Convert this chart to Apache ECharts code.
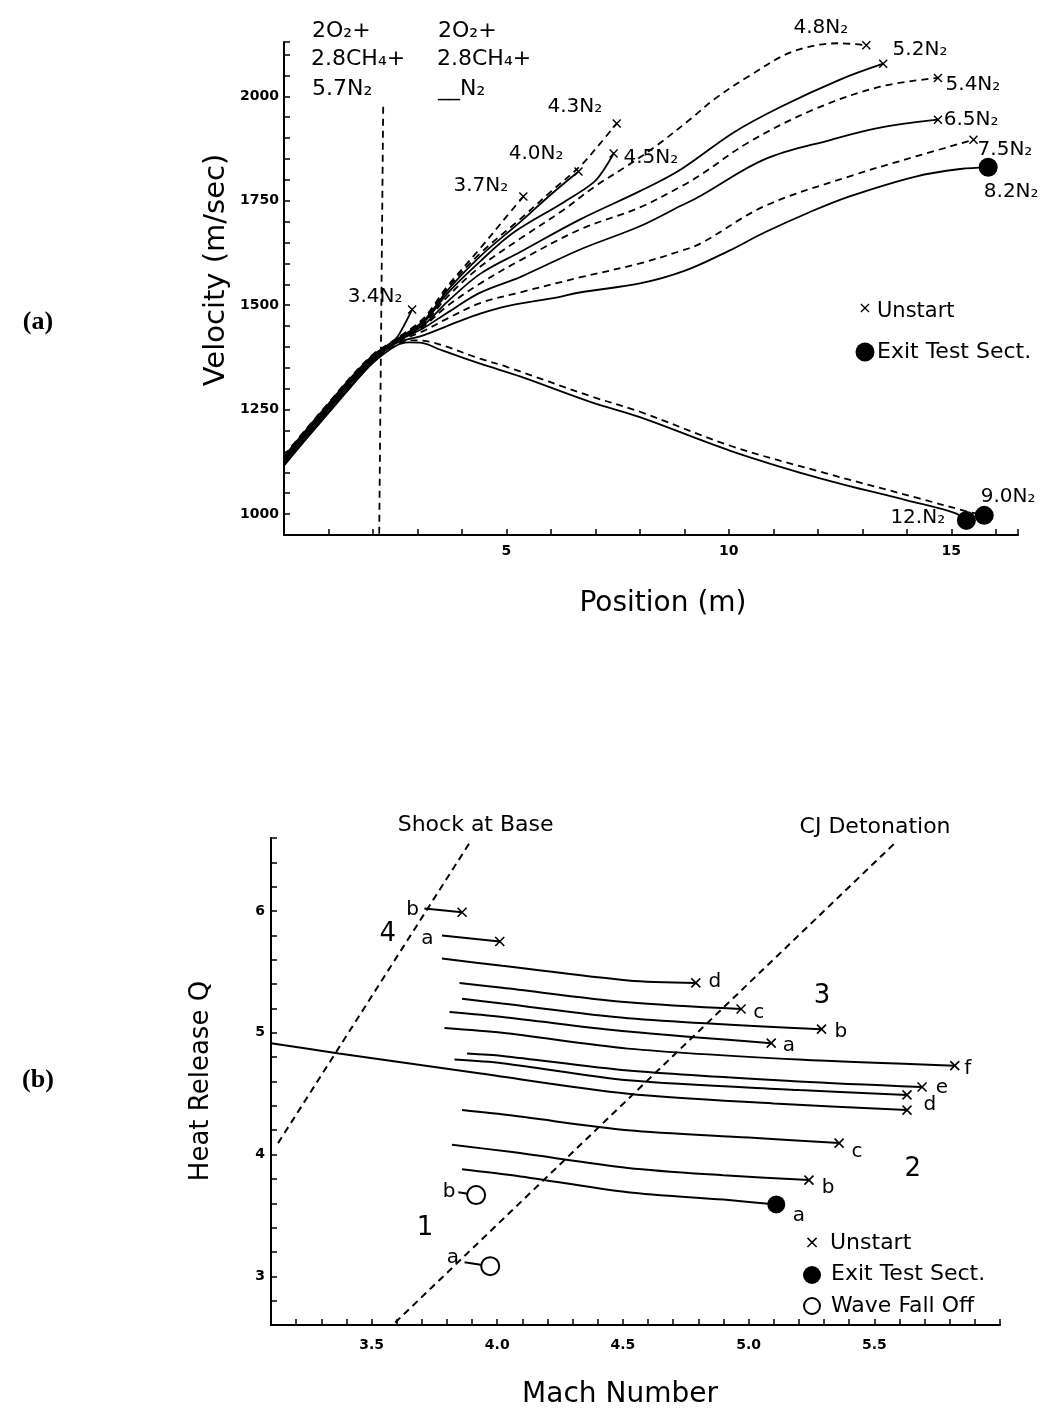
<!DOCTYPE html>
<html><head><meta charset="utf-8">
<script src="https://cdn.jsdelivr.net/npm/echarts@6/dist/echarts.min.js"></script>
<style>html,body{margin:0;padding:0;background:#fff}#c{width:1048px;height:1413px}</style>
</head><body><div id="c"></div>
<script>
// ---------- Panel (a): Position (m) vs Velocity (m/sec) ----------
const posVelN34 = [[0,1138],[0.5,1202],[1,1264],[1.5,1326],[2,1380],[2.5,1418],[2.7,1452],[2.88,1490]];
const posVelN37 = [[0,1140],[0.5,1204],[1,1266],[1.5,1328],[2,1382],[2.5,1418],[3.13,1468],[3.67,1545],[4.41,1636],[5.0,1712],[5.38,1760]];
const posVelN40 = [[0,1136],[0.5,1200],[1,1262],[1.5,1324],[2,1379],[2.5,1416],[3.13,1462],[3.67,1535],[4.41,1617],[5.32,1700],[6.0,1765],[6.62,1820]];
const posVelN43 = [[0,1138],[0.5,1202],[1,1264],[1.5,1325],[2,1380],[2.5,1417],[3.13,1465],[3.67,1540],[4.41,1624],[5.32,1707],[6.0,1772],[6.67,1834],[7.05,1880],[7.48,1935]];
const posVelN45 = [[0,1134],[0.5,1198],[1,1260],[1.5,1322],[2,1378],[2.5,1415],[3.13,1458],[3.67,1528],[4.41,1605],[5.16,1674],[6.28,1746],[6.96,1794],[7.2,1826],[7.41,1863]];
const posVelN48 = [[0,1132],[0.5,1196],[1,1258],[1.5,1320],[2,1376],[2.5,1414],[3.13,1455],[3.67,1520],[4.41,1592],[5.32,1660],[6.28,1728],[7.0,1785],[7.72,1834],[8.4,1884],[9.2,1951],[9.66,1992],[10.43,2047],[11.46,2108],[12.5,2127],[13.09,2122]];
const posVelN52 = [[0,1130],[0.5,1194],[1,1256],[1.5,1318],[2,1374],[2.5,1413],[3.13,1452],[3.67,1508],[4.41,1575],[5.32,1628],[6.67,1706],[8.0,1773],[8.92,1825],[10.1,1913],[11.17,1975],[12.5,2040],[13.47,2078]];
const posVelN54 = [[0,1128],[0.5,1192],[1,1254],[1.5,1316],[2,1372],[2.5,1412],[3.13,1449],[3.67,1498],[4.41,1552],[5.32,1608],[6.67,1682],[8.0,1734],[8.92,1784],[9.37,1812],[10.43,1889],[11.9,1968],[13.4,2023],[14.7,2044]];
const posVelN65 = [[0,1125],[0.5,1189],[1,1251],[1.5,1313],[2,1370],[2.5,1411],[3.13,1445],[3.67,1482],[4.41,1530],[5.32,1568],[6.67,1634],[8.0,1689],[8.92,1738],[9.37,1762],[10.8,1849],[12.3,1896],[13.4,1925],[14.7,1944]];
const posVelN75 = [[0,1122],[0.5,1186],[1,1248],[1.5,1310],[2,1368],[2.5,1410],[3.13,1438],[3.67,1468],[4.41,1505],[5.32,1531],[6.67,1567],[8.0,1600],[8.92,1630],[9.37,1648],[10.8,1737],[12.7,1808],[14.2,1856],[15.5,1896]];
const posVelN82 = [[0,1119],[0.5,1183],[1,1245],[1.5,1307],[2,1366],[2.5,1408],[3.13,1428],[3.9,1460],[4.41,1480],[5.02,1498],[6.15,1519],[6.67,1531],[8.0,1552],[9.0,1582],[10.0,1630],[10.8,1674],[11.8,1722],[12.7,1760],[14.2,1808],[15.2,1826],[15.83,1830]];
const posVelN90 = [[0,1118],[0.5,1182],[1,1244],[1.5,1306],[2,1364],[2.5,1404],[2.9,1416],[3.2,1414],[4.41,1372],[5.02,1352],[6.9,1282],[8.0,1245],[10.05,1163],[12.07,1101],[14.3,1037],[15.3,1008],[15.74,997]];
const posVelN120 = [[0,1116],[0.5,1180],[1,1242],[1.5,1304],[2,1362],[2.5,1402],[2.8,1411],[3.1,1410],[3.5,1394],[4.41,1360],[5.32,1329],[6.9,1268],[8.0,1232],[10.05,1151],[12.07,1085],[14.0,1033],[15.07,1003],[15.34,985]];
const mixBoundary = [[2.23,1975],[2.14,950]];

const aCurveLabels = ['3.4N₂','3.7N₂','4.0N₂','4.3N₂','4.5N₂','4.8N₂','5.2N₂','5.4N₂','6.5N₂','7.5N₂','8.2N₂','9.0N₂','12.N₂'];
const aCurveLabelAt = [[1.42,1520],[3.80,1786],[5.04,1862],[5.91,1976],[7.62,1853],[11.44,2165],[13.67,2112],[14.86,2027],[14.82,1944],[15.58,1871],[15.72,1771],[15.65,1042],[13.62,990]];

// ---------- Panel (b): Mach Number vs Heat Release Q ----------
const r4b = [[3.71,6.02],[3.86,5.99]];
const r4a = [[3.78,5.80],[4.01,5.75]];
const r3d = [[3.78,5.61],[4.02,5.55],[4.52,5.43],[4.79,5.41]];
const r3c = [[3.85,5.41],[4.02,5.37],[4.52,5.25],[4.97,5.195]];
const r3b = [[3.86,5.28],[4.02,5.24],[4.52,5.12],[5.29,5.03]];
const r3a = [[3.81,5.17],[4.02,5.13],[4.52,5.01],[5.09,4.915]];
const r2f = [[3.79,5.04],[4.02,5.00],[4.52,4.87],[5.2,4.78],[5.82,4.73]];
const r2e = [[3.88,4.83],[4.02,4.81],[4.52,4.69],[5.2,4.60],[5.69,4.555]];
const r2d = [[3.83,4.78],[4.02,4.75],[4.52,4.61],[5.2,4.53],[5.63,4.49]];
const r2dLong = [[3.1,4.915],[3.37,4.83],[3.92,4.67],[4.52,4.50],[5.1,4.42],[5.63,4.365]];
const r2c = [[3.86,4.365],[4.06,4.32],[4.52,4.20],[5.0,4.14],[5.36,4.094]];
const r2b = [[3.82,4.08],[4.06,4.02],[4.52,3.89],[4.9,3.83],[5.24,3.79]];
const r2a = [[3.86,3.88],[4.06,3.83],[4.52,3.69],[4.9,3.63],[5.11,3.59]];
const w1b = [[3.845,3.69],[3.916,3.667]];
const w1a = [[3.87,3.116],[3.972,3.083]];
const shockAtBase = [[3.128,4.094],[3.89,6.56]];
const cjDetonation = [[3.594,2.62],[5.586,6.567]];

const bLetterText = ['b','a','d','c','b','a','f','e','d','c','b','a','b','a'];
const bLetterAt = [[3.663,6.008],[3.722,5.772],[4.866,5.417],[5.04,5.162],[5.367,5.006],[5.16,4.891],[5.872,4.703],[5.769,4.547],[5.721,4.407],[5.431,4.021],[5.316,3.725],[5.2,3.495],[3.808,3.692],[3.824,3.150]];
const bRegionText = ['4','3','2','1'];
const bRegionAt = [[3.565,5.811],[5.292,5.302],[5.653,3.881],[3.713,3.397]];
const bLineTitleText = ['Shock at Base','CJ Detonation'];
const bLineTitleAt = [[3.914,6.707],[5.503,6.690]];

// ---------- tick labels ----------
const aXTickLabels = [5,10,15];
const aYTickLabels = [1000,1250,1500,1750,2000];
const bXTickLabels = ['3.5','4.0','4.5','5.0','5.5'];
const bYTickLabels = [3,4,5,6];

// ---------- build ----------
const FONT = "'DejaVu Sans', sans-serif";
const CROSS = 'path://M0,0L10,10M10,0L0,10';
const last = a => a[a.length-1];

const aCurves = [
  [posVelN34,false],[posVelN37,true],[posVelN40,false],[posVelN43,true],[posVelN45,false],
  [posVelN48,true],[posVelN52,false],[posVelN54,true],[posVelN65,false],[posVelN75,true],
  [posVelN82,false],[posVelN90,true],[posVelN120,false]
];
const aUnstart = [posVelN34,posVelN37,posVelN40,posVelN43,posVelN45,posVelN48,posVelN52,posVelN54,posVelN65,posVelN75].map(last);
const aExit = [posVelN82,posVelN90,posVelN120].map(last);

const bCurves = [r4b,r4a,r3d,r3c,r3b,r3a,r2f,r2e,r2d,r2dLong,r2c,r2b,r2a,w1b,w1a];
const bUnstart = [r4b,r4a,r3d,r3c,r3b,r3a,r2f,r2e,r2d,r2dLong,r2c,r2b].map(last);
const bExit = [r2a].map(last);
const bWave = [w1b,w1a].map(last);

function lineS(pts, dashed, ax, width, smooth) {
  return {type:'line', xAxisIndex:ax, yAxisIndex:ax, data:pts, symbol:'none', showSymbol:false,
    smooth: smooth, silent:true, z:2,
    lineStyle:{color:'#000', width:width, type: dashed ? [7,5] : 'solid'}};
}
function labelS(ax, pos, texts, opt) {
  return {type:'scatter', xAxisIndex:ax, yAxisIndex:ax, clip:false, silent:true,
    symbol:'circle', symbolSize:1, itemStyle:{color:'rgba(0,0,0,0)', opacity:1}, z:6,
    data: pos.map((p,i)=>({value:p, label:{formatter:texts[i]}})),
    label: Object.assign({show:true, color:'#000', opacity:1, fontFamily:FONT}, opt)};
}
const series = [];
aCurves.forEach(c => series.push(lineS(c[0], c[1], 0, 1.8, 0.35)));
series.push(lineS(mixBoundary, true, 0, 1.8, false));
series.push({type:'scatter', xAxisIndex:0, yAxisIndex:0, clip:false, silent:true, z:4,
  symbol:CROSS, symbolSize:8, itemStyle:{color:'rgba(0,0,0,0)', borderColor:'#000', borderWidth:1.4, opacity:1}, data:aUnstart});
series.push({type:'scatter', xAxisIndex:0, yAxisIndex:0, clip:false, silent:true, z:4,
  symbol:'circle', symbolSize:19, itemStyle:{color:'#000', opacity:1}, data:aExit});
series.push(labelS(0, aCurveLabelAt, aCurveLabels, {position:'right', distance:0, fontSize:20}));

bCurves.forEach(c => series.push(lineS(c, false, 1, 2, 0.3)));
series.push(lineS(shockAtBase, true, 1, 2, false));
series.push(lineS(cjDetonation, true, 1, 2, false));
series.push({type:'scatter', xAxisIndex:1, yAxisIndex:1, clip:false, silent:true, z:4,
  symbol:CROSS, symbolSize:9, itemStyle:{color:'rgba(0,0,0,0)', borderColor:'#000', borderWidth:1.6, opacity:1}, data:bUnstart});
series.push({type:'scatter', xAxisIndex:1, yAxisIndex:1, clip:false, silent:true, z:4,
  symbol:'circle', symbolSize:18, itemStyle:{color:'#000', opacity:1}, data:bExit});
series.push({type:'scatter', xAxisIndex:1, yAxisIndex:1, clip:false, silent:true, z:4,
  symbol:'circle', symbolSize:18, itemStyle:{color:'#fff', borderColor:'#000', borderWidth:2, opacity:1}, data:bWave});
series.push(labelS(1, bLetterAt, bLetterText, {position:'inside', fontSize:20}));
series.push(labelS(1, bRegionAt, bRegionText, {position:'inside', fontSize:26}));
series.push(labelS(1, bLineTitleAt, bLineTitleText, {position:'inside', fontSize:22}));

const axLine = {show:true, onZero:false, lineStyle:{color:'#000', width:2}};
const axTick = {show:true, inside:true, length:6, lineStyle:{color:'#000', width:1.5}};
const tickFont = {color:'#000', fontFamily:FONT, fontWeight:'bold', fontSize:14};
const near = (v, arr) => arr.find(t => Math.abs(Number(t) - v) < 1e-6);
const T = (x, y, text, font, align, extra) => Object.assign({type:'text', x:x, y:y, silent:true,
  style:{text:text, font:font, fill:'#000', align:align, verticalAlign:'middle', textAlign:align, textVerticalAlign:'middle'}}, extra || {});

const option = {
  animation:false,
  backgroundColor:'#fff',
  grid:[
    {left:284, right:30, top:42, bottom:878},
    {left:271, right:48, top:838, bottom:88}
  ],
  xAxis:[
    {gridIndex:0, type:'value', min:0, max:16.5, interval:1, axisLine:axLine, axisTick:axTick, splitLine:{show:false},
     axisLabel:Object.assign({margin:9, formatter:v => { const t = near(v, aXTickLabels); return t===undefined ? '' : String(t); }}, tickFont)},
    {gridIndex:1, type:'value', min:3.1, max:6.0, interval:0.1, axisLine:axLine, axisTick:axTick, splitLine:{show:false},
     axisLabel:Object.assign({margin:13, formatter:v => { const t = near(v, bXTickLabels); return t===undefined ? '' : t; }}, tickFont)}
  ],
  yAxis:[
    {gridIndex:0, type:'value', min:950, max:2130, interval:50, axisLine:axLine, axisTick:axTick, splitLine:{show:false},
     axisLabel:Object.assign({margin:5, formatter:v => { const t = near(v, aYTickLabels); return t===undefined ? '' : String(t); }}, tickFont)},
    {gridIndex:1, type:'value', min:2.6, max:6.6, interval:0.2, axisLine:axLine, axisTick:axTick, splitLine:{show:false},
     axisLabel:Object.assign({margin:6, formatter:v => { const t = near(v, bYTickLabels); return t===undefined ? '' : String(t); }}, tickFont)}
  ],
  series: series,
  graphic:[
    T(663, 604, 'Position (m)', "28px 'DejaVu Sans'", 'center'),
    T(216, 270, 'Velocity (m/sec)', "29px 'DejaVu Sans'", 'center', {rotation:Math.PI/2}),
    T(620, 1395, 'Mach Number', "28px 'DejaVu Sans'", 'center'),
    T(201, 1081, 'Heat Release Q', "26px 'DejaVu Sans'", 'center', {rotation:Math.PI/2}),
    T(38, 322, '(a)', "bold 26px 'Liberation Serif'", 'center'),
    T(38, 1080, '(b)', "bold 26px 'Liberation Serif'", 'center'),
    T(312, 31, '2O₂+', "22px 'DejaVu Sans'", 'left'),
    T(311, 59, '2.8CH₄+', "22px 'DejaVu Sans'", 'left'),
    T(312, 89, '5.7N₂', "22px 'DejaVu Sans'", 'left'),
    T(438, 31, '2O₂+', "22px 'DejaVu Sans'", 'left'),
    T(437, 59, '2.8CH₄+', "22px 'DejaVu Sans'", 'left'),
    T(438, 89, '__N₂', "22px 'DejaVu Sans'", 'left'),
    T(865, 309, '×', "16px 'DejaVu Sans'", 'center'),
    T(877, 312, 'Unstart', "21px 'DejaVu Sans'", 'left'),
    {type:'circle', silent:true, shape:{cx:865, cy:352, r:9.5}, style:{fill:'#000'}},
    T(877, 352, 'Exit Test Sect.', "22px 'DejaVu Sans'", 'left'),
    T(812, 1243, '×', "18px 'DejaVu Sans'", 'center'),
    T(830, 1243, 'Unstart', "22px 'DejaVu Sans'", 'left'),
    {type:'circle', silent:true, shape:{cx:812, cy:1275, r:9}, style:{fill:'#000'}},
    T(831, 1274, 'Exit Test Sect.', "22px 'DejaVu Sans'", 'left'),
    {type:'circle', silent:true, shape:{cx:812, cy:1306, r:8}, style:{fill:'#fff', stroke:'#000', lineWidth:2}},
    T(831, 1306, 'Wave Fall Off', "22px 'DejaVu Sans'", 'left')
  ]
};
const chart = echarts.init(document.getElementById('c'), null, {renderer:'canvas', width:1048, height:1413});
chart.setOption(option);
</script>
</body></html>
